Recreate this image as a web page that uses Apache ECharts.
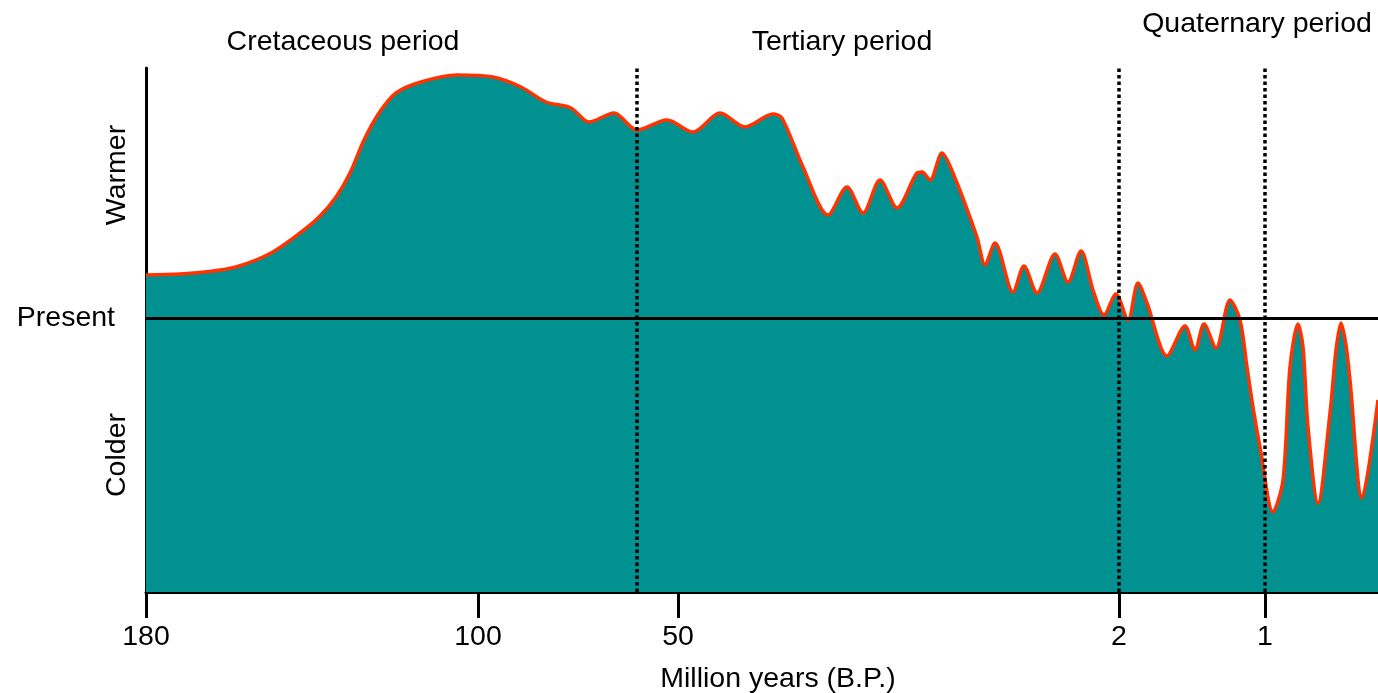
<!DOCTYPE html>
<html>
<head>
<meta charset="utf-8">
<script src="https://cdn.jsdelivr.net/npm/echarts@6/dist/echarts.min.js"></script>
<style>
html,body{margin:0;padding:0;background:#fff;}
#chart{width:1378px;height:693px;}
</style>
</head>
<body>
<div id="chart"></div>
<script>
// Position along the (non-linear) time axis, 0 = 180 My BP
const axisPos = [0,34,59,90,125,154,174,190,204,218,233,250,275,311,347,375,400,425,443,468,491,521,547,574,599,627,636,657,682,701,717,734,751,771,776,784,796,807,831,839,849,867,878,891,909,922,935,947,958,970,982,992,1001,1021,1039,1049,1058,1070,1084,1094,1101,1107,1114,1127,1137,1144,1152,1157,1162,1172,1184,1190,1195,1200,1204,1216,1232];
// Relative temperature (0 = present)
const tempRel = [43,44,46,51,65,85,102,121,145,178,205,225,236,243,241,231,216,210,196,205,188,198,186,205,191,204,200,151,103,131,105,138,110,145,146,138,165,145,81,53,75,26,52,25,64,36,67,28,3,24,-2,35,15,-38,-8,-32,-6,-30,18,-2,-49,-89,-129,-194,-162,-49,-6,-29,-109,-185,-95,-32,-5,-27,-62,-180,-82];
// Tick positions and labels (million years BP)
const tickPos = [0,332,532,973,1119];
const tickLabels = ['180','100','50','2','1'];
// Period boundaries (dotted lines)
const boundaryPos = [491,973,1119];
const periodNames = ['Cretaceous period','Tertiary period','Quaternary period'];

const FONT = '"Liberation Sans", Arial, sans-serif';
const FS = 28.5;
const chart = echarts.init(document.getElementById('chart'));
const data = axisPos.map((x,i)=>[x,tempRel[i]]);

chart.setOption({
  animation:false,
  grid:{left:146,right:0,top:68,bottom:101},
  xAxis:{
    type:'value',min:0,max:1232,
    axisLine:{show:true,onZero:false,lineStyle:{color:'#000',width:3}},
    axisTick:{show:true,customValues:tickPos,length:26,lineStyle:{color:'#000',width:3}},
    axisLabel:{customValues:tickPos,margin:31,fontSize:FS,fontFamily:FONT,color:'#000',
      formatter:function(v){const i=tickPos.indexOf(v);return i>=0?tickLabels[i]:'';}},
    splitLine:{show:false}
  },
  yAxis:{
    type:'value',min:-274,max:250,
    axisLine:{show:true,onZero:false,lineStyle:{color:'#000',width:3}},
    axisTick:{show:false},
    axisLabel:{customValues:[0],margin:31,fontSize:FS,fontFamily:FONT,color:'#000',formatter:function(){return 'Present';}},
    splitLine:{show:false}
  },
  series:[{
    type:'line',
    data:data,
    smooth:0.3,
    symbol:'none',
    lineStyle:{color:'#ff3300',width:3.5},
    areaStyle:{color:'#009190',opacity:1,origin:'start'},
    markLine:{
      silent:true,symbol:'none',label:{show:false},
      data:[
        {yAxis:0,lineStyle:{color:'#000',width:3,type:'solid'}},
        ...boundaryPos.map(p=>({xAxis:p,lineStyle:{color:'#000',width:3.5,type:[3.5,3],cap:'butt'}}))
      ]
    }
  }],
  graphic:[
    {type:'text',x:343,y:42,style:{text:periodNames[0],font:FS+'px '+FONT,fill:'#000',align:'center',verticalAlign:'middle'}},
    {type:'text',x:842,y:42,style:{text:periodNames[1],font:FS+'px '+FONT,fill:'#000',align:'center',verticalAlign:'middle'}},
    {type:'text',x:1257,y:24,style:{text:periodNames[2],font:FS+'px '+FONT,fill:'#000',align:'center',verticalAlign:'middle'}},
    {type:'text',x:367,y:155,style:{text:'Global temperatures\n8-10 deg. C warmer\nthan today',font:FS+'px '+FONT,fill:'#000',lineHeight:37,align:'left',verticalAlign:'top'}},
    {type:'text',x:117,y:175,rotation:Math.PI/2,style:{text:'Warmer',font:FS+'px '+FONT,fill:'#000',align:'center',verticalAlign:'middle'}},
    {type:'text',x:117,y:455,rotation:Math.PI/2,style:{text:'Colder',font:FS+'px '+FONT,fill:'#000',align:'center',verticalAlign:'middle'}},
    {type:'text',x:778,y:679,style:{text:'Million years (B.P.)',font:FS+'px '+FONT,fill:'#000',align:'center',verticalAlign:'middle'}}
  ]
});
</script>
</body>
</html>
